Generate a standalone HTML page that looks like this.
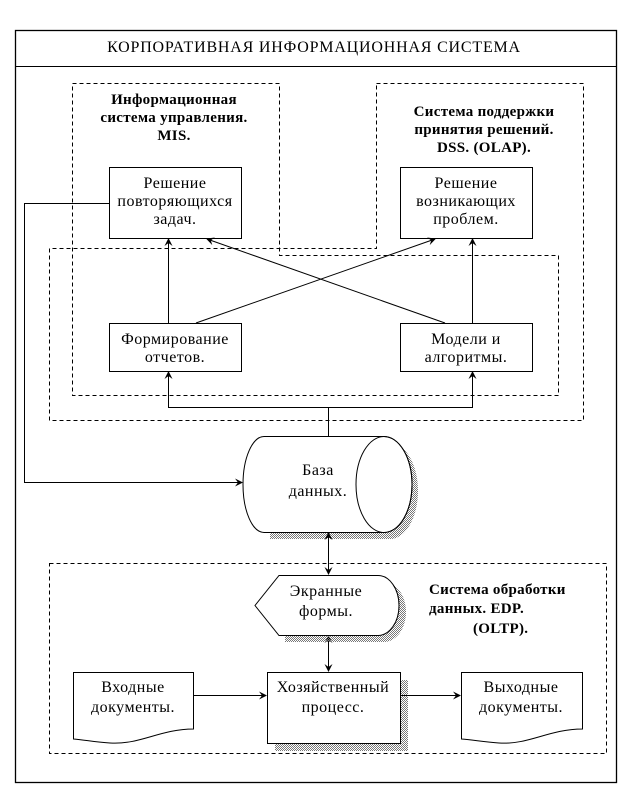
<!DOCTYPE html>
<html><head><meta charset="utf-8"><style>
html,body{margin:0;padding:0;background:#fff;}
svg{display:block;}
text{font-family:"Liberation Serif","DejaVu Serif",serif;font-size:16px;letter-spacing:0.5px;fill:#000;}
.b{font-weight:bold;font-size:15px;letter-spacing:0.3px;}
.t{letter-spacing:0.8px;}
</style></head><body>
<svg width="644" height="799" viewBox="0 0 644 799" xmlns="http://www.w3.org/2000/svg">
<defs>
<pattern id="sh" width="2" height="2" patternUnits="userSpaceOnUse"><rect width="1" height="1" fill="#777"/><rect x="1" y="1" width="1" height="1" fill="#777"/></pattern>
<marker id="a" markerWidth="8" markerHeight="8" refX="7" refY="4" orient="auto" markerUnits="userSpaceOnUse"><path d="M0,0 L8,4 L0,8 L3,4 z" fill="#000"/></marker>
</defs>
<g fill="none" stroke="#000" stroke-width="1">
<rect x="15.5" y="30.5" width="601" height="752" stroke-width="1.3"/>
<line x1="15" y1="66.5" x2="616" y2="66.5"/>
<g stroke-dasharray="4,3">
<path d="M72.5,83.5 H279.5 V255.5 H558.5 V395.5 H72.5 Z"/>
<path d="M376.5,83.5 H583.5 V420.5 H49.5 V248.5 H376.5 Z"/>
<rect x="49.5" y="563.5" width="557" height="190"/>
</g>
</g>
<text class="t" x="314" y="52" text-anchor="middle">КОРПОРАТИВНАЯ ИНФОРМАЦИОННАЯ СИСТЕМА</text>
<text class="b" x="174" y="104" text-anchor="middle">Информационная</text>
<text class="b" x="174" y="122" text-anchor="middle">система управления.</text>
<text class="b" x="174" y="140" text-anchor="middle">MIS.</text>
<text class="b" x="484" y="116" text-anchor="middle">Система поддержки</text>
<text class="b" x="484" y="134" text-anchor="middle">принятия решений.</text>
<text class="b" x="484" y="152" text-anchor="middle">DSS. (OLAP).</text>
<g fill="#fff" stroke="#000">
<rect x="109.5" y="167.5" width="132" height="71"/>
<rect x="400.5" y="167.5" width="132" height="71"/>
<rect x="109.5" y="323.5" width="132" height="48"/>
<rect x="400.5" y="323.5" width="132" height="48"/>
</g>
<text x="175" y="188" text-anchor="middle">Решение</text>
<text x="175" y="206" text-anchor="middle">повторяющихся</text>
<text x="175" y="224" text-anchor="middle">задач.</text>
<text x="466" y="188" text-anchor="middle">Решение</text>
<text x="466" y="206" text-anchor="middle">возникающих</text>
<text x="466" y="224" text-anchor="middle">проблем.</text>
<text x="175" y="344" text-anchor="middle">Формирование</text>
<text x="175" y="362" text-anchor="middle">отчетов.</text>
<text x="466" y="344" text-anchor="middle">Модели и</text>
<text x="466" y="362" text-anchor="middle">алгоритмы.</text>
<g fill="none" stroke="#000">
<line x1="168.5" y1="323" x2="168.5" y2="239" marker-end="url(#a)"/>
<line x1="472.5" y1="323" x2="472.5" y2="239" marker-end="url(#a)"/>
<line x1="196" y1="323" x2="435" y2="239" marker-end="url(#a)"/>
<line x1="445" y1="323" x2="207" y2="239" marker-end="url(#a)"/>
<path d="M328.5,436 V407.5 H168.5 V372" marker-end="url(#a)"/>
<path d="M328.5,407.5 H472.5 V372" marker-end="url(#a)"/>
<path d="M109,203.5 H24.5 V482.5 H242" marker-end="url(#a)"/>
</g>
<!-- cylinder -->
<path d="M270,443 H390 A28,48 0 0 1 390,539 H270 Z" fill="url(#sh)"/>
<path d="M264,436.5 H384 A28,48 0 0 1 384,532.5 H264 A21,48 0 0 1 264,436.5 Z" fill="#fff" stroke="#000"/>
<ellipse cx="384" cy="484.5" rx="28" ry="48" fill="none" stroke="#000"/>
<text x="318" y="475" text-anchor="middle">База</text>
<text x="318" y="496" text-anchor="middle">данных.</text>
<g fill="none" stroke="#000">
<line x1="328.5" y1="545" x2="328.5" y2="574" marker-end="url(#a)"/>
<line x1="328.5" y1="562" x2="328.5" y2="533" marker-end="url(#a)"/>
<line x1="328.5" y1="655" x2="328.5" y2="671" marker-end="url(#a)"/>
<line x1="328.5" y1="655" x2="328.5" y2="636" marker-end="url(#a)"/>
</g>
<!-- screen form -->
<path d="M285,582 H384 A22,30 0 0 1 384,642 H285 Z" fill="url(#sh)"/>
<path d="M279,575.5 H378 A21,30 0 0 1 378,635.5 H279 L255,605.5 Z" fill="#fff" stroke="#000"/>
<text x="326" y="596" text-anchor="middle">Экранные</text>
<text x="326" y="616" text-anchor="middle">формы.</text>
<text class="b" x="429" y="594">Система обработки</text>
<text class="b" x="429" y="613">данных. EDP.</text>
<text class="b" x="473" y="633">(OLTP).</text>
<!-- bottom row -->
<rect x="275" y="680" width="133" height="71" fill="url(#sh)"/>
<rect x="267.5" y="672.5" width="133" height="71" fill="#fff" stroke="#000"/>
<path d="M73.5,672.5 H193.5 V729 C160,729 140,745 110,743 C95,742 85,740 73.5,739 Z" fill="#fff" stroke="#000"/>
<path d="M461.5,672.5 H582.5 V729 C549,729 529,745 499,743 C484,742 474,740 461.5,739 Z" fill="#fff" stroke="#000"/>
<g stroke="#000"><line x1="193" y1="695.5" x2="266" y2="695.5" marker-end="url(#a)"/><line x1="401" y1="695.5" x2="460" y2="695.5" marker-end="url(#a)"/></g>
<text x="133" y="692" text-anchor="middle">Входные</text>
<text x="133" y="712" text-anchor="middle">документы.</text>
<text x="333" y="692" text-anchor="middle">Хозяйственный</text>
<text x="333" y="712" text-anchor="middle">процесс.</text>
<text x="521" y="692" text-anchor="middle">Выходные</text>
<text x="521" y="712" text-anchor="middle">документы.</text>
</svg>
</body></html>
